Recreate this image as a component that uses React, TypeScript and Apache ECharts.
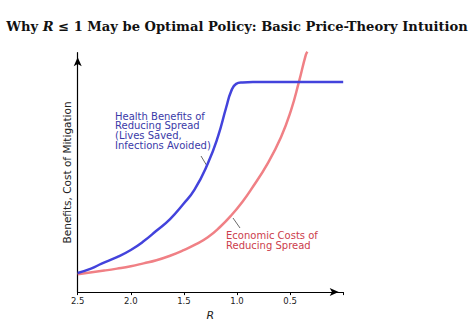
import React, { useEffect, useRef } from "react";
import * as echarts from "echarts";

const xTicks = [2.5, 2.0, 1.5, 1.0, 0.5];
const benefitR = [2.5, 2.375, 2.275, 2.13, 2.0, 1.88, 1.759, 1.63, 1.509, 1.4, 1.275, 1.181, 1.102, 1.055, 1.008, 0.947, 0.85, 0.0];
const benefitV = [8.0, 9.8, 11.9, 14.6, 17.6, 21.2, 25.6, 30.5, 36.6, 42.8, 53.7, 64.7, 77.1, 83.9, 87.0, 87.6, 87.8, 87.8];
const costR = [2.5, 2.25, 2.13, 2.0, 1.88, 1.759, 1.63, 1.509, 1.39, 1.275, 1.16, 1.053, 0.943, 0.868, 0.712, 0.586, 0.493, 0.415, 0.352, 0.337];
const costV = [7.5, 9.0, 9.8, 10.8, 12.0, 13.3, 15.2, 17.4, 19.9, 22.9, 27.2, 32.1, 38.1, 42.8, 53.7, 64.7, 75.7, 88.1, 99.1, 100.4];

const titleParts = ["Why ", "R", " ≤ 1 May be Optimal Policy: Basic Price-Theory Intuition"];
const benefitLabel = ["Health Benefits of", "Reducing Spread", "(Lives Saved,", "Infections Avoided)"];
const costLabel = ["Economic Costs of", "Reducing Spread"];
const yName = "Benefits, Cost of Mitigation";
const xName = "R";

export default function App() {
  const ref = useRef<HTMLDivElement>(null);
  useEffect(() => {
    const chart = echarts.init(ref.current!, null, { renderer: "svg" });
    const sans = "DejaVu Sans";
    chart.setOption({
      animation: false,
      backgroundColor: "#ffffff",
      title: {
        text: `{b|${titleParts[0]}}{i|${titleParts[1]}}{m|${titleParts[2]}}`,
        left: "center",
        top: 15,
        textStyle: {
          rich: {
            b: { fontFamily: "DejaVu Serif", fontWeight: "bold", fontSize: 13.1, color: "#111" },
            i: { fontFamily: "DejaVu Serif", fontStyle: "italic", fontSize: 13.1, color: "#111" },
            m: { fontFamily: "DejaVu Serif", fontWeight: "bold", fontSize: 13.1, color: "#111" },
          },
        },
      },
      grid: { left: 77.7, right: 130.8, top: 52.7, bottom: 30.5, containLabel: false },
      xAxis: {
        type: "value",
        inverse: true,
        min: 0,
        max: 2.5,
        interval: 0.5,
        name: xName,
        nameLocation: "middle",
        nameGap: 17,
        nameTextStyle: { fontFamily: sans, fontStyle: "italic", fontSize: 11, color: "#222" },
        axisLine: {
          show: true,
          onZero: false,
          symbol: ["none", "arrow"],
          symbolSize: [6, 9],
          symbolOffset: [0, -4.5],
          lineStyle: { color: "#000", width: 1.2 },
        },
        axisTick: { show: true, length: 3, lineStyle: { color: "#000" } },
        axisLabel: {
          fontFamily: sans,
          fontSize: 8.5,
          color: "#222",
          margin: 4,
          formatter: (v: number) => (xTicks.some((t) => Math.abs(t - v) < 1e-6) ? v.toFixed(1) : ""),
        },
        splitLine: { show: false },
      },
      yAxis: {
        type: "value",
        position: "left",
        min: 0,
        max: 100,
        name: yName,
        nameLocation: "middle",
        nameGap: 5,
        nameTextStyle: { fontFamily: sans, fontSize: 10.5, color: "#222" },
        axisLine: {
          show: true,
          onZero: false,
          symbol: ["none", "arrow"],
          symbolSize: [6, 9],
          symbolOffset: [0, -4.5],
          lineStyle: { color: "#000", width: 1.2 },
        },
        axisTick: { show: false },
        axisLabel: { show: false },
        splitLine: { show: false },
      },
      series: [
        {
          type: "line",
          data: costR.map((r, i) => [r, costV[i]]),
          smooth: 0.5,
          showSymbol: false,
          clip: false,
          lineStyle: { color: "#f08085", width: 2.5 },
        },
        {
          type: "line",
          data: benefitR.map((r, i) => [r, benefitV[i]]),
          smooth: 0.5,
          showSymbol: false,
          clip: false,
          lineStyle: { color: "#4343dc", width: 2.5 },
        },
      ],
      graphic: [
        {
          type: "text",
          left: 115,
          top: 111,
          style: {
            text: benefitLabel.join("\n"),
            fontFamily: sans,
            fontSize: 10,
            lineHeight: 9.8,
            fill: "#3a3aa8",
          },
        },
        {
          type: "line",
          shape: { x1: 201, y1: 156, x2: 207, y2: 166 },
          style: { stroke: "#444", lineWidth: 0.8 },
        },
        {
          type: "text",
          left: 226,
          top: 230.5,
          style: {
            text: costLabel.join("\n"),
            fontFamily: sans,
            fontSize: 10,
            lineHeight: 10.3,
            fill: "#cc3d4c",
          },
        },
        {
          type: "line",
          shape: { x1: 233, y1: 218, x2: 240, y2: 228 },
          style: { stroke: "#444", lineWidth: 0.8 },
        },
      ],
    });
    return () => chart.dispose();
  }, []);
  return <div ref={ref} style={{ position: "fixed", left: 0, top: 0, width: 474, height: 326 }} />;
}
